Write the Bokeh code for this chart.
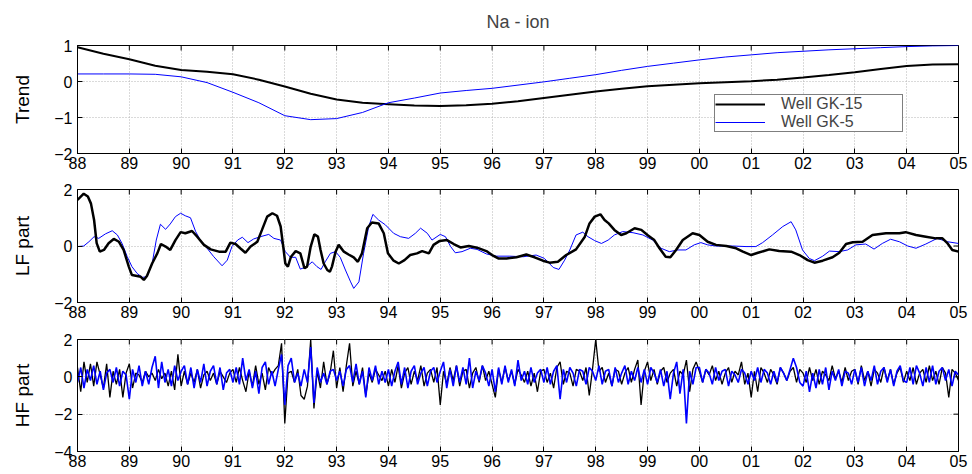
import math
from bokeh.plotting import figure
from bokeh.layouts import column
from bokeh.models import FixedTicker, Range1d, Legend, LegendItem
from bokeh.embed import file_html
from bokeh.resources import INLINE

FONT = "Liberation Sans"
BLACK = "#000000"
BLUE = "#0000FF"

# ---------------- data ----------------
year_ticks = list(range(88, 106))
year_labels = ["88", "89", "90", "91", "92", "93", "94", "95", "96", "97", "98", "99",
               "00", "01", "02", "03", "04", "05"]

trend_x = [88, 88.5, 89, 89.5, 90, 90.5, 91, 91.5, 92, 92.5, 93, 93.5, 94, 94.5, 95, 95.5,
           96, 96.5, 97, 97.5, 98, 98.5, 99, 99.5, 100, 100.5, 101, 101.5, 102, 102.5,
           103, 103.5, 104, 104.5, 105]
trend_gk15 = [0.95, 0.77, 0.62, 0.44, 0.32, 0.27, 0.2, 0.05, -0.14, -0.34, -0.5, -0.59,
              -0.63, -0.67, -0.68, -0.66, -0.62, -0.55, -0.46, -0.37, -0.28, -0.2, -0.13,
              -0.09, -0.05, -0.02, 0.01, 0.05, 0.11, 0.18, 0.26, 0.35, 0.43, 0.47, 0.48]
trend_gk5 = [0.21, 0.21, 0.21, 0.2, 0.13, -0.03, -0.3, -0.59, -0.95, -1.06, -1.03, -0.86,
             -0.59, -0.46, -0.32, -0.25, -0.19, -0.1, -0.01, 0.09, 0.19, 0.31, 0.42, 0.51,
             0.6, 0.68, 0.74, 0.8, 0.84, 0.88, 0.91, 0.94, 0.97, 0.99, 1.0]

lf_gk15_x = [88.00, 88.12, 88.20, 88.26, 88.32, 88.37, 88.43, 88.51, 88.60, 88.70, 88.80, 88.89,
             88.99, 89.05, 89.15, 89.22, 89.28, 89.34, 89.44, 89.54, 89.61, 89.70, 89.79, 89.89,
             89.99, 90.08, 90.21, 90.31, 90.44, 90.57, 90.73, 90.86, 90.95, 91.05, 91.14, 91.24,
             91.34, 91.47, 91.56, 91.66, 91.76, 91.85, 91.92, 91.97, 92.01, 92.06, 92.12, 92.21,
             92.30, 92.38, 92.43, 92.50, 92.57, 92.64, 92.69, 92.75, 92.82, 92.87, 92.91, 92.98,
             93.04, 93.14, 93.23, 93.33, 93.41, 93.49, 93.59, 93.68, 93.81, 93.91, 93.99, 94.10,
             94.20, 94.31, 94.42, 94.55, 94.65, 94.78, 94.87, 94.99, 95.13, 95.26, 95.39, 95.55,
             95.71, 95.89, 96.00, 96.12, 96.28, 96.47, 96.66, 96.82, 96.98, 97.11, 97.27, 97.43,
             97.62, 97.79, 97.88, 97.98, 98.09, 98.17, 98.25, 98.36, 98.49, 98.59, 98.75, 98.88,
             99.01, 99.13, 99.23, 99.35, 99.44, 99.55, 99.68, 99.87, 100.00, 100.16, 100.32,
             100.52, 100.71, 100.84, 101.00, 101.13, 101.35, 101.54, 101.77, 101.93, 102.09,
             102.22, 102.38, 102.57, 102.70, 102.83, 102.96, 103.15, 103.34, 103.60, 103.86,
             103.98, 104.18, 104.37, 104.56, 104.69, 104.79, 104.88, 105.00]
lf_gk15 = [1.63, 1.85, 1.75, 1.5, 0.92, 0.1, -0.2, -0.14, 0.1, 0.25, 0.15, -0.14,
           -0.73, -1.03, -1.06, -1.09, -1.2, -1.06, -0.62, -0.26, 0.07, -0.02, -0.14, 0.21,
           0.49, 0.45, 0.53, 0.33, 0.04, -0.12, -0.2, -0.2, 0.12, 0.07, -0.08, -0.24,
           -0.02, 0.15, 0.57, 1.04, 1.16, 1.07, 0.69, -0.02, -0.62, -0.73, -0.38, -0.18,
           -0.26, -0.79, -0.73, -0.02, 0.41, 0.33, -0.14, -0.62, -0.85, -0.91, -0.73, -0.2,
           0.04, -0.2, -0.3, -0.4, -0.56, -0.26, 0.63, 0.83, 0.8, 0.45, -0.26, -0.52,
           -0.62, -0.5, -0.32, -0.26, -0.18, -0.26, 0.04, 0.18, 0.21, 0.07, -0.05, 0.0,
           -0.06, -0.18, -0.32, -0.44, -0.44, -0.4, -0.3, -0.4, -0.52, -0.59, -0.56, -0.32,
           -0.12, 0.33, 0.8, 1.04, 1.12, 0.92, 0.8, 0.57, 0.39, 0.45, 0.63, 0.57,
           0.37, 0.21, -0.08, -0.38, -0.4, -0.14, 0.21, 0.45, 0.39, 0.15, 0.04,
           0.0, -0.08, -0.2, -0.32, -0.24, -0.12, -0.18, -0.2, -0.32, -0.5,
           -0.59, -0.52, -0.4, -0.24, 0.07, 0.13, 0.15, 0.39, 0.45, 0.45,
           0.49, 0.39, 0.33, 0.27, 0.27, 0.09, -0.14, -0.2]

lf_gk5_x = [88.00, 88.12, 88.22, 88.32, 88.41, 88.54, 88.67, 88.77, 88.86, 88.96, 89.05, 89.15,
            89.25, 89.34, 89.44, 89.52, 89.60, 89.70, 89.79, 89.89, 89.99, 90.08, 90.18, 90.28,
            90.37, 90.50, 90.63, 90.79, 90.89, 90.98, 91.09, 91.18, 91.29, 91.40, 91.53, 91.69,
            91.79, 91.92, 92.01, 92.11, 92.21, 92.30, 92.42, 92.53, 92.62, 92.70, 92.78, 92.88,
            92.98, 93.07, 93.17, 93.27, 93.33, 93.43, 93.52, 93.62, 93.70, 93.81, 93.94, 94.10,
            94.23, 94.39, 94.52, 94.62, 94.75, 94.84, 95.00, 95.10, 95.20, 95.29, 95.42, 95.58,
            95.71, 95.89, 96.08, 96.34, 96.60, 96.85, 97.01, 97.18, 97.29, 97.40, 97.50, 97.62,
            97.75, 97.85, 97.98, 98.11, 98.24, 98.36, 98.52, 98.72, 98.91, 99.10, 99.26, 99.42,
            99.58, 99.74, 99.90, 100.03, 100.16, 100.32, 100.64, 100.90, 101.09, 101.22, 101.41,
            101.61, 101.77, 101.86, 101.99, 102.12, 102.22, 102.38, 102.51, 102.70, 102.86,
            103.02, 103.21, 103.37, 103.53, 103.69, 103.86, 104.02, 104.18, 104.37, 104.59,
            104.79, 105.00]
lf_gk5 = [-0.02, 0.0, 0.15, 0.33, 0.27, 0.43, 0.54, 0.39, 0.09, -0.38, -0.73, -0.97,
          -1.11, -1.09, -0.62, 0.21, 0.77, 0.59, 0.78, 1.04, 1.16, 1.07, 1.0, 0.51,
          0.21, -0.08, -0.38, -0.7, -0.5, -0.02, 0.21, 0.31, 0.12, 0.25, 0.33, 0.41,
          0.27, 0.21, -0.2, -0.4, -0.4, -0.82, -0.73, -0.56, -0.73, -0.83, -0.56, -0.26,
          -0.2, -0.4, -0.85, -1.27, -1.5, -1.27, -0.26, 0.69, 1.12, 0.92, 0.75, 0.45,
          0.33, 0.27, 0.45, 0.63, 0.45, 0.21, 0.41, 0.33, -0.02, -0.24, -0.2, -0.08,
          -0.12, -0.28, -0.36, -0.36, -0.38, -0.32, -0.44, -0.76, -0.83, -0.5, -0.14, 0.39,
          0.49, 0.33, 0.19, 0.09, 0.21, 0.39, 0.51, 0.47, 0.39, 0.21, -0.08, -0.2,
          -0.14, -0.14, 0.04, 0.12, 0.04, 0.0, 0.0, -0.02, -0.02, 0.12, 0.39,
          0.69, 0.86, 0.57, -0.14, -0.44, -0.52, -0.36, -0.18, -0.2, -0.14,
          0.04, 0.07, -0.11, 0.09, 0.24, 0.15, 0.0, -0.08, 0.07, 0.27,
          0.15, 0.09]

# HF part: 16 samples per year, 1988.0 .. 2005.0
hf_gk15 = [
    0.5, -0.8, 0.8, -0.3, 0.7, -0.5, 0.8, 0.1, -0.6, 0.7, -1.1, 0.3, -0.4, 0.4, -1.1, 0.2,
    0.7, -0.6, 0.2, 0.1, -0.3, 0.3, 0.0, 0.2, -0.2, 0.4, -0.1, 0.2, -0.5, 0.3, -0.7, 1.2,
    -0.5, 0.3, -0.4, 0.2, -0.3, 0.4, -0.6, 0.1, 0.3, -0.2, 0.2, -0.4, 0.3, 0.0, -0.3, 0.2,
    0.4, -0.3, 0.5, -0.2, -0.8, 0.3, -0.5, 0.6, -0.4, 0.2, -0.7, 0.5, 0.1, 0.4, 0.6, 1.8,
    -2.5, 0.2, 0.3, -0.3, 0.4, -1.0, -1.2, -0.5, 2.0, -1.7, 0.3, -0.6, 0.8, -0.4, 0.2, 1.4,
    -0.6, 0.5, -0.8, 0.6, 1.8, -0.5, 0.3, -0.4, 0.5, -1.0, 0.2, -0.3, 0.4, 0.1, -0.2, 0.3,
    -0.5, 0.4, -0.3, 0.6, -0.6, 0.2, 0.5, -0.4, 0.3, -0.2, 0.6, -0.5, 0.2, 0.4, -0.3, 0.5,
    -1.5, 0.3, -0.4, 0.5, -0.2, 0.6, -0.5, 0.3, 0.4, -0.6, 0.2, 0.5, -0.3, 0.6, -0.2, 0.3,
    -0.4, -1.1, 0.4, -0.3, 0.5, -0.2, 0.3, -0.4, 0.4, 0.1, -0.3, 0.3, -0.5, 0.2, -0.8, 0.3,
    0.4, -0.3, 0.2, -0.6, 0.5, 0.8, -0.4, 0.3, 0.2, -0.5, 0.4, 0.3, -0.2, 0.5, -1.0, 0.4,
    2.0, 0.3, 0.5, -0.3, 0.2, -0.5, 0.4, 0.3, -0.4, 0.2, 0.5, -0.3, 0.4, 0.9, -1.5, 0.3,
    0.8, -0.2, 0.4, -0.4, 0.3, 0.5, -0.3, 0.2, 0.4, -0.5, 0.3, 0.1, 0.9, -0.8, 0.4, 0.8,
    0.3, -0.3, 0.4, 0.1, 0.6, -0.2, 0.3, -0.4, 0.2, 0.5, -0.3, 0.3, 0.1, 0.8, -0.4, 0.2,
    -1.1, 0.3, -0.8, 0.5, 0.2, -0.3, 0.4, 0.1, -0.4, 0.5, 0.2, -0.2, 0.3, 0.5, -0.3, 0.4,
    0.2, -0.3, 0.5, -0.2, 0.4, -0.4, 0.3, 0.1, -0.2, 0.6, -0.1, 0.3, -0.3, 0.5, -0.2, 0.3,
    0.4, -0.4, 0.6, -0.2, 0.3, -0.5, 0.4, 0.2, -0.3, 0.5, -0.2, 0.4, -0.4, 0.2, 0.5, -0.3,
    0.3, -0.2, 0.5, -0.4, 0.2, 0.4, -0.3, 0.6, -0.2, 0.3, -0.4, 0.5, 0.2, -1.1, 0.4, 0.2,
    -0.2]
hf_gk5 = [
    -0.3, 0.5, -0.6, 0.4, -0.2, 0.6, -0.4, 0.3, -0.7, 0.2, 0.4, -0.3, 0.5, -0.5, 0.3, 0.1,
    -1.2, 0.4, -0.3, 0.6, -0.5, 0.3, -0.4, 0.5, 1.1, -0.6, 0.8, -0.3, 0.4, -0.5, 0.6, -0.2,
    0.3, 0.6, -0.4, 0.5, -0.6, 0.4, -0.3, 0.7, -0.5, 0.3, 0.6, -0.4, 0.5, -0.7, 0.2, 0.4,
    -0.3, 0.5, -0.4, 1.0, -0.2, 0.4, -0.6, 0.3, -0.9, 0.5, 0.8, -0.4, 0.3, -0.5, 0.4, 1.2,
    -1.5, 0.6, 1.0, -0.3, 0.2, -0.5, 0.4, -0.3, 1.6, -1.4, 0.5, -0.3, 0.2, -0.4, 0.3, 0.4,
    -0.2, 0.3, -0.5, 0.4, 0.6, -0.3, 0.7, -0.4, 0.3, -1.1, 0.5, -0.2, 0.6, -0.4, 0.3, -0.3,
    0.4, -0.5, 0.3, 0.8, -0.4, 0.5, -0.6, 0.3, 0.6, -0.4, 0.2, 0.5, -0.5, 0.3, 0.5, -0.3,
    0.3, 0.8, -0.6, 0.4, -0.5, 0.6, -0.3, 0.5, -0.4, 1.0, -0.6, 0.3, -0.2, 0.6, 0.2, -0.5,
    0.4, -0.8, 0.5, -0.4, 0.6, -0.3, 0.4, -0.5, 0.9, -0.2, 0.3, -0.4, 0.5, -0.3, 0.2, 0.4,
    -0.3, 0.5, -0.4, 0.3, 0.6, -1.2, 0.4, -0.3, 0.5, 0.2, -0.5, 0.4, 0.3, -0.4, 0.5, 0.3,
    -0.2, 0.6, -0.4, 0.3, 0.4, -0.5, 0.5, -0.3, 0.2, 0.6, -0.4, 0.3, -0.2, 0.5, -0.3, 0.4,
    -0.4, 0.5, 0.2, -0.3, 0.4, -0.5, 0.3, -1.2, 0.2, 0.8, -0.9, 0.4, -2.5, 0.3, -0.4, 0.5,
    0.5, -0.3, 0.4, 0.2, -0.4, 0.5, -0.2, 0.3, 0.4, -0.5, 0.3, 0.1, -0.3, 0.4, 0.2, -0.4,
    0.3, -0.2, 0.5, -0.3, 0.4, 0.2, -0.4, 0.3, -0.3, 0.5, 0.2, -0.2, 0.4, 1.0, 0.5, -0.3,
    -0.5, 0.3, -0.8, 0.2, -0.6, 0.4, -0.4, 0.5, -0.7, 0.3, -0.2, 0.4, -0.5, 0.3, 0.2, -0.4,
    0.4, -0.3, 0.5, -0.5, 0.3, -0.2, 0.6, -0.4, 0.3, 0.5, -0.3, 0.4, -0.5, 0.3, 0.6, -0.2,
    -0.3, 0.5, -0.4, 0.6, 0.2, -0.5, 0.5, -0.3, 0.6, -0.4, 0.3, 0.5, -0.2, 0.4, -0.5, 0.3,
    0.1]
hf_x = [88 + i / 16 for i in range(len(hf_gk15))]

panel_names = ["Trend", "LF part", "HF part"]
y_limits = [(-2, 1), (-2, 2), (-4, 2)]
y_ticks = [[-2, -1, 0, 1], [-2, 0, 2], [-4, -2, 0, 2]]
series_names = ["Well GK-15", "Well GK-5"]
title_text = "Na - ion"

# ---------------- figures ----------------
overrides = {t: l for t, l in zip(year_ticks, year_labels)}


def make_panel(i, height, b_top, b_bottom):
    y0, y1 = y_limits[i]
    p = figure(width=972, height=height, output_backend="svg", toolbar_location=None,
               x_range=Range1d(88, 105), y_range=Range1d(y0, y1),
               min_border_left=77, min_border_right=14,
               min_border_top=b_top, min_border_bottom=b_bottom)
    p.outline_line_color = "black"
    p.outline_line_width = 1
    p.background_fill_color = "white"
    p.border_fill_color = "white"
    xt = FixedTicker(ticks=year_ticks)
    yt = FixedTicker(ticks=y_ticks[i])
    p.xaxis.ticker = xt
    p.yaxis.ticker = yt
    p.xaxis.major_label_overrides = overrides
    for ax in (p.xaxis[0], p.yaxis[0]):
        ax.major_tick_in = 5
        ax.major_tick_out = 0
        ax.minor_tick_line_color = None
        ax.axis_line_color = "black"
        ax.major_label_text_font = FONT
        ax.major_label_text_font_size = "16px"
        ax.major_label_text_color = "black"
    p.xaxis.major_label_standoff = 3
    p.yaxis.major_label_standoff = 5
    p.yaxis.axis_label = panel_names[i]
    p.yaxis.axis_label_text_font = FONT
    p.yaxis.axis_label_text_font_size = "19px"
    p.yaxis.axis_label_text_font_style = "normal"
    p.yaxis.axis_label_text_color = "black"
    p.yaxis.axis_label_standoff = 18
    p.xgrid.ticker = xt
    p.ygrid.ticker = yt
    for g in (p.xgrid[0], p.ygrid[0]):
        g.grid_line_color = "#b4b4b4"
        g.grid_line_dash = "1 2"
        g.grid_line_width = 1
    # inward tick marks on the top and right edges of the box (half clipped by the frame)
    p.scatter(year_ticks, [y1] * len(year_ticks), marker="dash", size=10,
              angle=math.pi / 2, line_color="black", line_width=1)
    p.scatter([105] * len(y_ticks[i]), y_ticks[i], marker="dash", size=10,
              line_color="black", line_width=1)
    return p


p1 = make_panel(0, 175, 41, 22)
p1.title.text = title_text
p1.title.align = "center"
p1.title.text_font = FONT
p1.title.text_font_size = "18px"
p1.title.text_font_style = "normal"
p1.title.vertical_align = "top"
p1.title.standoff = 23
r1 = p1.line(trend_x, trend_gk15, line_color=BLACK, line_width=2)
r2 = p1.line(trend_x, trend_gk5, line_color=BLUE, line_width=1)
legend = Legend(items=[LegendItem(label=series_names[0], renderers=[r1]),
                       LegendItem(label=series_names[1], renderers=[r2])],
                location=(637, 21), padding=0, spacing=0, margin=0,
                glyph_width=50, glyph_height=16, label_height=16, label_width=121,
                label_standoff=16, label_text_font=FONT, label_text_font_size="16px",
                label_text_line_height=1.0,
                border_line_color="black", border_line_width=1,
                background_fill_color="white", background_fill_alpha=1)
p1.add_layout(legend, "center")

p2 = make_panel(1, 147, 14, 20)
p2.line(lf_gk5_x, lf_gk5, line_color=BLUE, line_width=1)
p2.line(lf_gk15_x, lf_gk15, line_color=BLACK, line_width=2.5)

p3 = make_panel(2, 152, 17, 23)
p3.line(hf_x, hf_gk15, line_color=BLACK, line_width=1.3)
p3.line(hf_x, hf_gk5, line_color=BLUE, line_width=1.6)

layout = column(p1, p2, p3, spacing=0)
open("out.html", "w").write(file_html(layout, INLINE))
